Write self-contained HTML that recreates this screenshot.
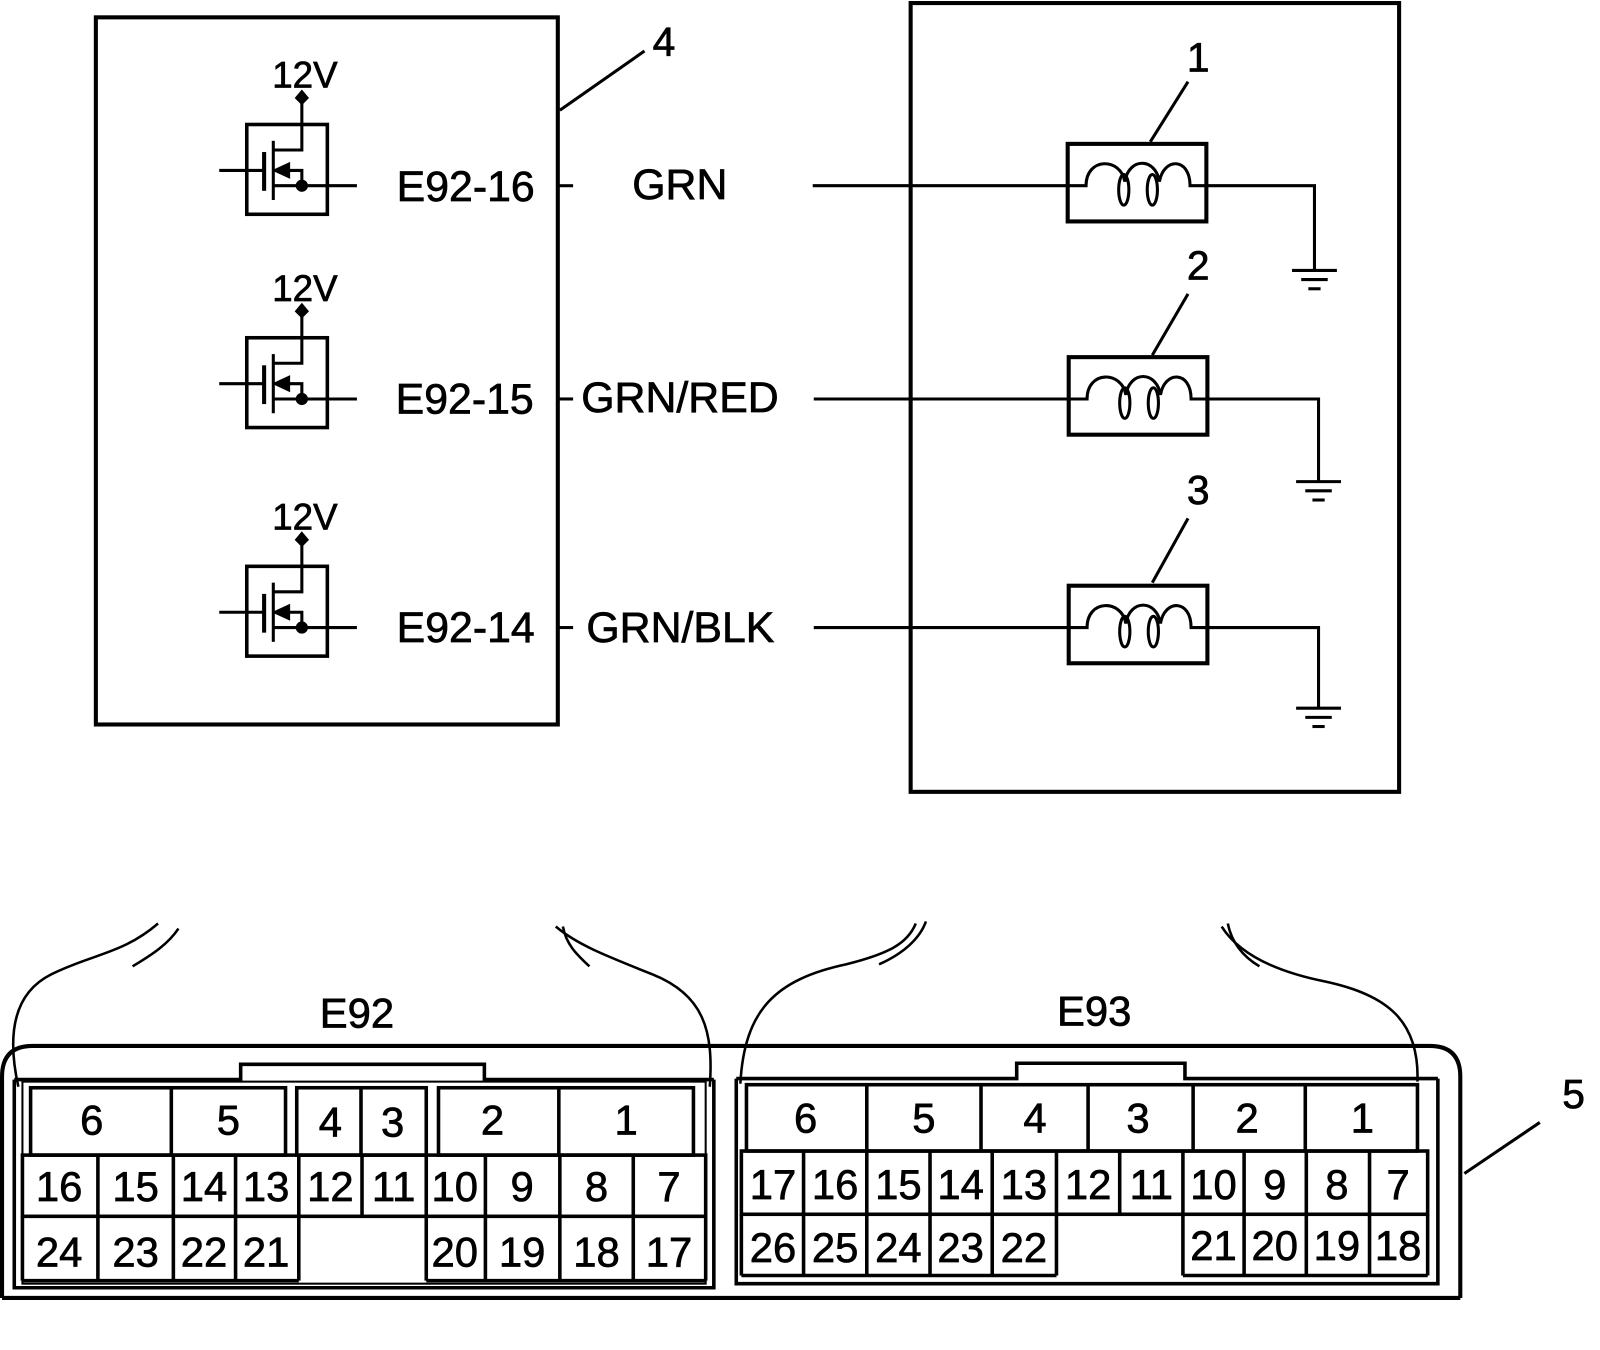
<!DOCTYPE html>
<html><head><meta charset="utf-8"><style>
html,body{margin:0;padding:0;background:#fff;}
svg{display:block;}
text{font-family:"Liberation Sans",Arial,sans-serif;fill:#000;stroke:#000;stroke-width:0.7;}
</style></head><body>
<svg width="1600" height="1350" viewBox="0 0 1569 1323" preserveAspectRatio="none" xmlns="http://www.w3.org/2000/svg">
<defs>
<g id="fet" fill="none" stroke="#000" stroke-width="3">
  <rect x="242" y="-60" width="79" height="88" stroke-width="3.5"/>
  <line x1="215" y1="-15" x2="259" y2="-15"/>
  <line x1="259" y1="-33" x2="259" y2="5" stroke-width="4"/>
  <line x1="268" y1="-44" x2="268" y2="14" stroke-width="3"/>
  <polyline points="268,-35 296,-35 296,-87"/>
  <polyline points="280,-15 296,-15 296,0"/>
  <polygon points="270,-15 283,-21 283,-9" fill="#000"/>
  <line x1="268" y1="0" x2="350" y2="0"/>
  <circle cx="296" cy="0" r="4.5" fill="#000"/>
  <polygon points="296,-92 301,-86 296,-81 291,-86" fill="#000"/>
</g>
<g id="coil" fill="none" stroke="#000" stroke-width="3">
  <line x1="-250" y1="0" x2="0" y2="0"/>
  <rect x="0" y="-41" width="136" height="76" stroke-width="4"/>
  <path d="M0,0 H18 C18,-28 52,-28 56,-4 C60,-28 86,-28 90,-4 C94,-28 120,-28 120,0 H136"/>
  <ellipse cx="55" cy="4" rx="5" ry="15"/>
  <ellipse cx="83" cy="4" rx="5" ry="15"/>
</g>
<g id="gnd" stroke="#000" stroke-width="3">
  <line x1="-22" y1="0" x2="22" y2="0"/>
  <line x1="-13" y1="9" x2="13" y2="9"/>
  <line x1="-6" y1="18" x2="6" y2="18"/>
</g>
</defs>

<rect x="94" y="17" width="453" height="693" fill="none" stroke="#000" stroke-width="4"/>
<line x1="549" y1="108" x2="632" y2="50" stroke="#000" stroke-width="3"/>
<text x="640" y="55" font-size="40">4</text>

<rect x="893" y="3" width="479" height="773" fill="none" stroke="#000" stroke-width="4"/>

<g font-size="42">
<use href="#fet" transform="translate(0,182)"/>
<text x="299" y="86" font-size="36" text-anchor="middle">12V</text>
<text x="389" y="197">E92-16</text>
<line x1="547" y1="182" x2="562" y2="182" stroke="#000" stroke-width="3"/>
<text x="620" y="195">GRN</text>

<use href="#fet" transform="translate(0,391)"/>
<text x="299" y="295" font-size="36" text-anchor="middle">12V</text>
<text x="388" y="405">E92-15</text>
<line x1="547" y1="391" x2="562" y2="391" stroke="#000" stroke-width="3"/>
<text x="570" y="404">GRN/RED</text>

<use href="#fet" transform="translate(0,615)"/>
<text x="299" y="519" font-size="36" text-anchor="middle">12V</text>
<text x="389" y="629">E92-14</text>
<line x1="547" y1="615" x2="562" y2="615" stroke="#000" stroke-width="3"/>
<text x="575" y="629">GRN/BLK</text>
</g>

<g font-size="40" text-anchor="middle">
<use href="#coil" transform="translate(1047,182)"/>
<polyline points="1183,182 1289,182 1289,265" fill="none" stroke="#000" stroke-width="3"/>
<use href="#gnd" transform="translate(1289,265)"/>
<line x1="1128" y1="139" x2="1165" y2="80" stroke="#000" stroke-width="3"/>
<text x="1175" y="70">1</text>

<use href="#coil" transform="translate(1048,391)"/>
<polyline points="1184,391 1293,391 1293,472" fill="none" stroke="#000" stroke-width="3"/>
<use href="#gnd" transform="translate(1293,472)"/>
<line x1="1130" y1="348" x2="1165" y2="288" stroke="#000" stroke-width="3"/>
<text x="1175" y="274">2</text>

<use href="#coil" transform="translate(1048,615)"/>
<polyline points="1184,615 1293,615 1293,694" fill="none" stroke="#000" stroke-width="3"/>
<use href="#gnd" transform="translate(1293,694)"/>
<line x1="1130" y1="571" x2="1165" y2="508" stroke="#000" stroke-width="3"/>
<text x="1175" y="494">3</text>
</g>

<path d="M2,1272 V1055 Q2,1025 32,1025 H1402 Q1432,1025 1432,1055 V1272" fill="none" stroke="#000" stroke-width="4"/>
<line x1="2" y1="1272" x2="1432" y2="1272" stroke="#000" stroke-width="4"/>
<line x1="1436" y1="1150" x2="1510" y2="1100" stroke="#000" stroke-width="3"/>
<text x="1532" y="1086" font-size="40">5</text>

<g fill="none" stroke="#000" stroke-width="2.5">
<path d="M18,1065 C8,1020 10,975 50,955 C90,935 120,935 155,905"/>
<path d="M130,947 C150,935 165,925 175,910"/>
<path d="M696,1065 C700,1010 690,975 640,955 C590,935 565,925 545,908"/>
<path d="M578,947 C565,935 555,925 552,908"/>
<path d="M726,1062 C730,990 760,960 830,945 C870,935 890,925 898,905"/>
<path d="M862,945 C885,935 902,920 908,903"/>
<path d="M1390,1060 C1392,1000 1360,975 1300,962 C1250,952 1215,935 1198,908"/>
<path d="M1235,947 C1215,935 1207,920 1204,905"/>
</g>
<text x="350" y="1007" font-size="41" text-anchor="middle">E92</text>
<text x="1073" y="1005" font-size="41" text-anchor="middle">E93</text>

<g fill="none" stroke="#000" stroke-width="3.5">
<polyline points="14,1058 236,1058 236,1043 475,1043 475,1058 700,1058"/>
<polyline points="14,1058 14,1262 700,1262 700,1058"/>
<rect x="22" y="1060" width="670" height="198" stroke-width="2"/>
<rect x="30" y="1066" width="250" height="66"/>
<line x1="168" y1="1066" x2="168" y2="1132"/>
<rect x="291" y="1066" width="127" height="66"/>
<line x1="354" y1="1066" x2="354" y2="1132"/>
<rect x="430" y="1066" width="250" height="66"/>
<line x1="548" y1="1066" x2="548" y2="1132"/>
<rect x="22" y="1132" width="670" height="60"/>
<line x1="96" y1="1132" x2="96" y2="1255"/>
<line x1="170" y1="1132" x2="170" y2="1255"/>
<line x1="231" y1="1132" x2="231" y2="1255"/>
<line x1="293" y1="1132" x2="293" y2="1255"/>
<line x1="355" y1="1132" x2="355" y2="1192"/>
<line x1="418" y1="1132" x2="418" y2="1255"/>
<line x1="476" y1="1132" x2="476" y2="1255"/>
<line x1="549" y1="1132" x2="549" y2="1255"/>
<line x1="621" y1="1132" x2="621" y2="1255"/>
<line x1="22" y1="1255" x2="293" y2="1255"/>
<line x1="418" y1="1255" x2="692" y2="1255"/>
<line x1="22" y1="1192" x2="22" y2="1255"/>
<line x1="692" y1="1192" x2="692" y2="1255"/>
</g>
<g font-size="41" text-anchor="middle">
<text x="90" y="1112">6</text><text x="224" y="1112">5</text><text x="324" y="1114">4</text><text x="385" y="1114">3</text><text x="483" y="1112">2</text><text x="614" y="1112">1</text>
<text x="58" y="1177">16</text><text x="133" y="1177">15</text><text x="200" y="1177">14</text><text x="261" y="1177">13</text><text x="324" y="1177">12</text><text x="386" y="1177">11</text><text x="446" y="1177">10</text><text x="512" y="1177">9</text><text x="585" y="1177">8</text><text x="656" y="1177">7</text>
<text x="58" y="1241">24</text><text x="133" y="1241">23</text><text x="200" y="1241">22</text><text x="261" y="1241">21</text><text x="446" y="1241">20</text><text x="512" y="1241">19</text><text x="585" y="1241">18</text><text x="656" y="1241">17</text>
</g>

<g fill="none" stroke="#000" stroke-width="3.5">
<polyline points="722,1057 997,1057 997,1042 1162,1042 1162,1057 1410,1057"/>
<polyline points="722,1057 722,1258 1410,1258 1410,1057"/>
<rect x="732" y="1063" width="658" height="65"/>
<line x1="850" y1="1063" x2="850" y2="1128"/>
<line x1="962" y1="1063" x2="962" y2="1128"/>
<line x1="1067" y1="1063" x2="1067" y2="1128"/>
<line x1="1170" y1="1063" x2="1170" y2="1128"/>
<line x1="1280" y1="1063" x2="1280" y2="1128"/>
<rect x="727" y="1128" width="673" height="62"/>
<line x1="788" y1="1128" x2="788" y2="1250"/>
<line x1="850" y1="1128" x2="850" y2="1250"/>
<line x1="912" y1="1128" x2="912" y2="1250"/>
<line x1="973" y1="1128" x2="973" y2="1250"/>
<line x1="1036" y1="1128" x2="1036" y2="1250"/>
<line x1="1098" y1="1128" x2="1098" y2="1190"/>
<line x1="1160" y1="1128" x2="1160" y2="1250"/>
<line x1="1220" y1="1128" x2="1220" y2="1250"/>
<line x1="1281" y1="1128" x2="1281" y2="1250"/>
<line x1="1343" y1="1128" x2="1343" y2="1250"/>
<line x1="727" y1="1190" x2="727" y2="1250"/>
<line x1="1400" y1="1190" x2="1400" y2="1250"/>
<line x1="727" y1="1250" x2="1036" y2="1250"/>
<line x1="1160" y1="1250" x2="1400" y2="1250"/>
</g>
<g font-size="41" text-anchor="middle">
<text x="790" y="1110">6</text><text x="906" y="1110">5</text><text x="1015" y="1110">4</text><text x="1116" y="1110">3</text><text x="1223" y="1110">2</text><text x="1336" y="1110">1</text>
<text x="758" y="1175">17</text><text x="819" y="1175">16</text><text x="881" y="1175">15</text><text x="942" y="1175">14</text><text x="1004" y="1175">13</text><text x="1067" y="1175">12</text><text x="1129" y="1175">11</text><text x="1190" y="1175">10</text><text x="1250" y="1175">9</text><text x="1311" y="1175">8</text><text x="1371" y="1175">7</text>
<text x="758" y="1237">26</text><text x="819" y="1237">25</text><text x="881" y="1237">24</text><text x="942" y="1237">23</text><text x="1004" y="1237">22</text><text x="1190" y="1235">21</text><text x="1250" y="1235">20</text><text x="1311" y="1235">19</text><text x="1371" y="1235">18</text>
</g>
</svg>
</body></html>
